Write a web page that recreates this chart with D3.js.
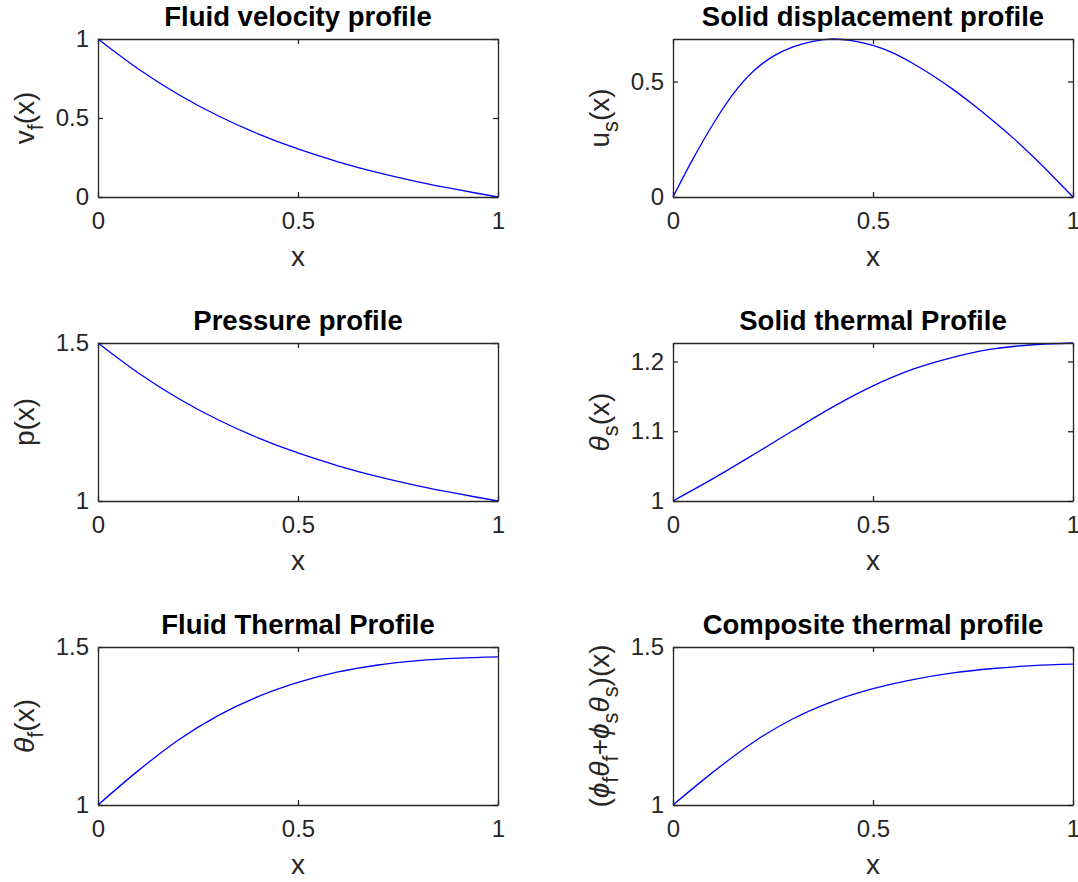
<!DOCTYPE html>
<html>
<head>
<meta charset="utf-8">
<script src="https://cdn.jsdelivr.net/npm/d3@7"></script>
<style>
  body { margin: 0; background: #fff; }
  svg text { font-family: "Liberation Sans", Arial, Helvetica, sans-serif; }
</style>
</head>
<body>
<div id="chart"></div>
<script>
// sample positions along x
var x_coarse = [0, 0.1, 0.2, 0.3, 0.4, 0.5, 0.6, 0.7, 0.8, 0.9, 1];
var x_fine = [0, 0.05, 0.1, 0.15, 0.2, 0.25, 0.3, 0.35, 0.4, 0.45, 0.5,
              0.55, 0.6, 0.65, 0.7, 0.75, 0.8, 0.85, 0.9, 0.95, 1];

// profiles
var fluid_velocity = [1, 0.812, 0.65, 0.514, 0.40, 0.304, 0.223, 0.154, 0.096, 0.046, 0];
var solid_displacement = [0, 0.165, 0.315, 0.445, 0.543, 0.609, 0.65, 0.674, 0.684, 0.676, 0.656,
                          0.624, 0.578, 0.525, 0.466, 0.40, 0.33, 0.256, 0.175, 0.089, 0];
var pressure = [1.5, 1.406, 1.325, 1.257, 1.2, 1.152, 1.1115, 1.077, 1.048, 1.023, 1];
var solid_thermal = [1, 1.032, 1.066, 1.101, 1.135, 1.165, 1.189, 1.206, 1.218, 1.224, 1.2265];
var fluid_thermal = [1, 1.108, 1.205, 1.283, 1.343, 1.388, 1.421, 1.443, 1.457, 1.465, 1.469];
var composite_thermal = [1, 1.104, 1.198, 1.273, 1.328, 1.368, 1.397, 1.418, 1.432, 1.441, 1.4455];

// tick labels
var x_ticks = [0, 0.5, 1];
var ticks_unit = [0, 0.5, 1];
var ticks_disp = [0, 0.5];
var ticks_half = [1, 1.5];
var ticks_solid_thermal = [1, 1.1, 1.2];

var panels = [
  { title: 'Fluid velocity profile', xs: x_coarse, ys: fluid_velocity, ydom: [0, 1], yticks: ticks_unit, col: 0, row: 0,
    label: [{t: 'v'}, {t: 'f', sub: true}, {t: '(x)'}] },
  { title: 'Solid displacement profile', xs: x_fine, ys: solid_displacement, ydom: [0, d3.max(solid_displacement)], yticks: ticks_disp, col: 1, row: 0,
    label: [{t: 'u'}, {t: 's', sub: true}, {t: '(x)'}] },
  { title: 'Pressure profile', xs: x_coarse, ys: pressure, ydom: [1, 1.5], yticks: ticks_half, col: 0, row: 1,
    label: [{t: 'p(x)'}] },
  { title: 'Solid thermal Profile', xs: x_coarse, ys: solid_thermal, ydom: [1, d3.max(solid_thermal)], yticks: ticks_solid_thermal, col: 1, row: 1,
    label: [{t: '\u03B8', it: true}, {t: 's', sub: true}, {t: '(x)'}] },
  { title: 'Fluid Thermal Profile', xs: x_coarse, ys: fluid_thermal, ydom: [1, 1.5], yticks: ticks_half, col: 0, row: 2,
    label: [{t: '\u03B8', it: true}, {t: 'f', sub: true}, {t: '(x)'}] },
  { title: 'Composite thermal profile', xs: x_coarse, ys: composite_thermal, ydom: [1, 1.5], yticks: ticks_half, col: 1, row: 2,
    label: [{t: '('}, {t: '\u03D5', it: true}, {t: 'f', sub: true}, {t: '\u03B8', it: true}, {t: 'f', sub: true},
            {t: '+'}, {t: '\u03D5', it: true}, {t: 's', sub: true}, {t: '\u03B8', it: true}, {t: 's', sub: true}, {t: ')(x)'}] }
];

var width = 1078,
    height = 882,
    col_left = [98, 673],
    row_top = [39, 343, 647],
    plot_w = 400,
    plot_h = 158,
    tick_font = 24,
    label_font = 28,
    title_font = 27.5,
    axis_color = '#262626';

var svg = d3.select('#chart').append('svg')
  .attr('width', width)
  .attr('height', height);

var fmt = d3.format('~g');

panels.forEach(function(p) {
  var left = col_left[p.col],
      top = row_top[p.row];

  var x = d3.scaleLinear().domain([0, 1]).range([0, plot_w]);
  var y = d3.scaleLinear().domain(p.ydom).range([plot_h, 0]);

  var g = svg.append('g').attr('transform', 'translate(' + left + ',' + top + ')');

  var line = d3.line()
    .x(function(d, i) { return x(p.xs[i]); })
    .y(function(d) { return y(d); })
    .curve(d3.curveCatmullRom.alpha(0.5));

  g.append('path')
    .datum(p.ys)
    .attr('d', line)
    .attr('fill', 'none')
    .attr('stroke', '#0000ff')
    .attr('stroke-width', 1.3);

  var bottom = g.append('g').attr('transform', 'translate(0,' + plot_h + ')')
    .call(d3.axisBottom(x).tickValues(x_ticks).tickFormat(fmt).tickSizeInner(-5).tickSizeOuter(0).tickPadding(15));
  var leftAx = g.append('g')
    .call(d3.axisLeft(y).tickValues(p.yticks).tickFormat(fmt).tickSizeInner(-5).tickSizeOuter(0).tickPadding(9));
  var topAx = g.append('g')
    .call(d3.axisTop(x).tickValues(x_ticks).tickFormat('').tickSizeInner(-5).tickSizeOuter(0));
  var rightAx = g.append('g').attr('transform', 'translate(' + plot_w + ',0)')
    .call(d3.axisRight(y).tickValues(p.yticks).tickFormat('').tickSizeInner(-5).tickSizeOuter(0));

  [bottom, leftAx, topAx, rightAx].forEach(function(a) {
    a.selectAll('path, line').attr('stroke', axis_color).attr('stroke-width', 1.3);
    a.selectAll('text')
      .attr('fill', axis_color)
      .style('font-size', tick_font + 'px')
      .style('font-family', '"Liberation Sans", Arial, sans-serif');
  });

  g.append('text')
    .attr('x', plot_w / 2)
    .attr('y', -13)
    .attr('text-anchor', 'middle')
    .attr('font-weight', 'bold')
    .attr('font-size', title_font)
    .attr('fill', '#000')
    .text(p.title);

  g.append('text')
    .attr('x', plot_w / 2)
    .attr('y', plot_h + 69)
    .attr('text-anchor', 'middle')
    .attr('font-size', label_font)
    .attr('fill', axis_color)
    .text('x');

  var yl = g.append('text')
    .attr('transform', 'translate(-64,' + (plot_h / 2) + ') rotate(-90)')
    .attr('text-anchor', 'middle')
    .attr('font-size', label_font)
    .attr('fill', axis_color);

  var shift = 0;
  p.label.forEach(function(s) {
    var dy = 0;
    if (s.sub && shift === 0) { dy = 9; shift = 9; }
    else if (!s.sub && shift !== 0) { dy = -shift; shift = 0; }
    var ts = yl.append('tspan').attr('dy', dy).text(s.t);
    if (s.sub) ts.attr('font-size', label_font * 0.78);
    if (s.it) ts.attr('font-style', 'italic');
  });
});
</script>
</body>
</html>
